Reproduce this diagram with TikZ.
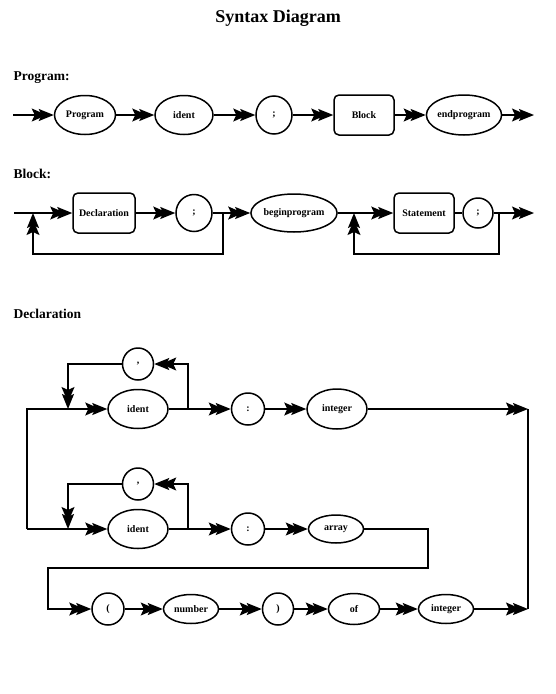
\documentclass[tikz,border=0pt]{standalone}
\usepackage{fontspec}
\setmainfont{Liberation Serif}
\usepackage{tikz}
\usetikzlibrary{arrows.meta, shapes.geometric}

\begin{document}
\begin{tikzpicture}[
					x=1pt, y=-1pt,
					term/.style={ellipse, draw, line width=1.5pt, inner sep=0pt,
						font=\bfseries\fontsize{10}{11}\selectfont},
					nonterm/.style={rectangle, rounded corners=5pt, draw, line width=1.5pt, inner sep=0pt,
						font=\bfseries\fontsize{10}{11}\selectfont},
					arrow/.style={-{Stealth[length=15pt,width=13pt,inset=3pt,sep=-8pt]Stealth[length=15pt,width=12pt,inset=3pt]}, line width=1.6pt},
					line/.style={line width=1.6pt},
					heading/.style={anchor=west, font=\bfseries\fontsize{13.5}{15}\selectfont}
					]
					\useasboundingbox (0,0) rectangle (556,694);
					\node[font=\bfseries\fontsize{18}{20}\selectfont] (title) at (278,18) {Syntax Diagram};
					
					% --- Program ---
					\node[heading] (lprog) at (10,78) {Program:};
					\coordinate (pstart) at (13,115);
					\coordinate (pfinish) at (534,115);
					\node[term, minimum width=61pt, minimum height=39pt] (prog) at (85,115) {Program};
					\node[term, minimum width=58pt, minimum height=39pt] (pid) at (184,115) {ident};
					\node[term, minimum width=36pt, minimum height=38pt] (psemi) at (274,115) {;};
					\node[nonterm, minimum width=60pt, minimum height=40pt] (pblock) at (364,115) {Block};
					\node[term, minimum width=61pt, minimum height=40pt] (pend) at (464,115) {endprogram};
					\draw[arrow] (pstart) -- (prog);
					\draw[arrow] (prog) -- (pid);
					\draw[arrow] (pid) -- (psemi);
					\draw[arrow] (psemi) -- (pblock);
					\draw[arrow] (pblock) -- (pend);
					\draw[arrow] (pend) -- (pfinish);
					
					% --- Block ---
					\node[heading] (lblock) at (10,174) {Block:};
					\coordinate (bstart) at (14,213);
					\coordinate (bj1) at (33,213);
					\coordinate (bj2) at (223,213);
					\coordinate (bj3) at (354,213);
					\coordinate (bj4) at (499,213);
					\coordinate (bfinish) at (534,213);
					\coordinate (bl1) at (33,254);
					\coordinate (bl2) at (223,254);
					\coordinate (bl3) at (354,254);
					\coordinate (bl4) at (499,254);
					\node[nonterm, minimum width=62pt, minimum height=40pt] (decl) at (104,213) {Declaration};
					\node[term, minimum width=36pt, minimum height=37pt] (bsemi1) at (194,213) {;};
					\node[term, minimum width=81pt, minimum height=38pt] (begin) at (294,213) {beginprogram};
					\node[nonterm, minimum width=60pt, minimum height=40pt] (stmt) at (424,213) {Statement};
					\node[term, minimum width=30pt, minimum height=30pt] (bsemi2) at (478,213) {;};
					\draw[arrow] (bstart) -- (decl);
					\draw[arrow] (decl) -- (bsemi1);
					\draw[line] (bsemi1) -- (bj2);
					\draw[arrow] (bj2) -- (begin);
					\draw[arrow] (bj2) -- (bl2) -- (bl1) -- (bj1);
					\draw[arrow] (begin) -- (stmt);
					\draw[line] (stmt) -- (bsemi2);
					\draw[arrow] (bsemi2) -- (bfinish);
					\draw[arrow] (bj4) -- (bl4) -- (bl3) -- (bj3);
					
					% --- Declaration ---
					\node[heading] (ldecl) at (10,314) {Declaration};
					\coordinate (dl1) at (27,409);
					\coordinate (dl2) at (27,529);
					\coordinate (dr1) at (528,409);
					\coordinate (dr3) at (528,609);
					% first line: ident list : integer
					\node[term, minimum width=60pt, minimum height=39pt] (id1) at (138,409) {ident};
					\node[term, minimum width=31pt, minimum height=32pt] (comma1) at (138,364) {,};
					\node[term, minimum width=33pt, minimum height=32pt] (colon1) at (248,409) {:};
					\node[term, minimum width=60pt, minimum height=40pt] (int1) at (337,409) {integer};
					\coordinate (j1a) at (68,409);
					\coordinate (j1b) at (188,409);
					\coordinate (c1a) at (68,364);
					\coordinate (c1b) at (188,364);
					\draw[arrow] (dl2) -- (dl1) -- (id1);
					\draw[arrow] (j1b) -- (c1b) -- (comma1);
					\draw[arrow] (comma1) -- (c1a) -- (j1a);
					\draw[arrow] (id1) -- (colon1);
					\draw[arrow] (colon1) -- (int1);
					\draw[arrow] (int1) -- (dr1);
					\draw[line] (dr1) -- (dr3);
					% second line: ident list : array
					\node[term, minimum width=60pt, minimum height=39pt] (id2) at (138,529) {ident};
					\node[term, minimum width=31pt, minimum height=32pt] (comma2) at (138,484) {,};
					\node[term, minimum width=33pt, minimum height=32pt] (colon2) at (248,529) {:};
					\node[term, minimum width=55pt, minimum height=28pt] (arr) at (336,529) {array};
					\coordinate (j2a) at (68,529);
					\coordinate (j2b) at (188,529);
					\coordinate (c2a) at (68,484);
					\coordinate (c2b) at (188,484);
					\draw[arrow] (dl2) -- (id2);
					\draw[arrow] (j2b) -- (c2b) -- (comma2);
					\draw[arrow] (comma2) -- (c2a) -- (j2a);
					\draw[arrow] (id2) -- (colon2);
					\draw[arrow] (colon2) -- (arr);
					% third line: ( number ) of integer
					\coordinate (w1) at (428,529);
					\coordinate (w2) at (428,568);
					\coordinate (w3) at (48,568);
					\coordinate (w4) at (48,609);
					\node[term, minimum width=32pt, minimum height=32pt] (lpar) at (108,609) {(};
					\node[term, minimum width=55pt, minimum height=29pt] (num) at (191,609) {number};
					\node[term, minimum width=31pt, minimum height=32pt] (rpar) at (278,609) {)};
					\node[term, minimum width=51pt, minimum height=31pt] (of) at (354,609) {of};
					\node[term, minimum width=55pt, minimum height=29pt] (int2) at (446,609) {integer};
					\draw[arrow] (arr) -- (w1) -- (w2) -- (w3) -- (w4) -- (lpar);
					\draw[arrow] (lpar) -- (num);
					\draw[arrow] (num) -- (rpar);
					\draw[arrow] (rpar) -- (of);
					\draw[arrow] (of) -- (int2);
					\draw[arrow] (int2) -- (dr3);
				\end{tikzpicture}
\end{document}
